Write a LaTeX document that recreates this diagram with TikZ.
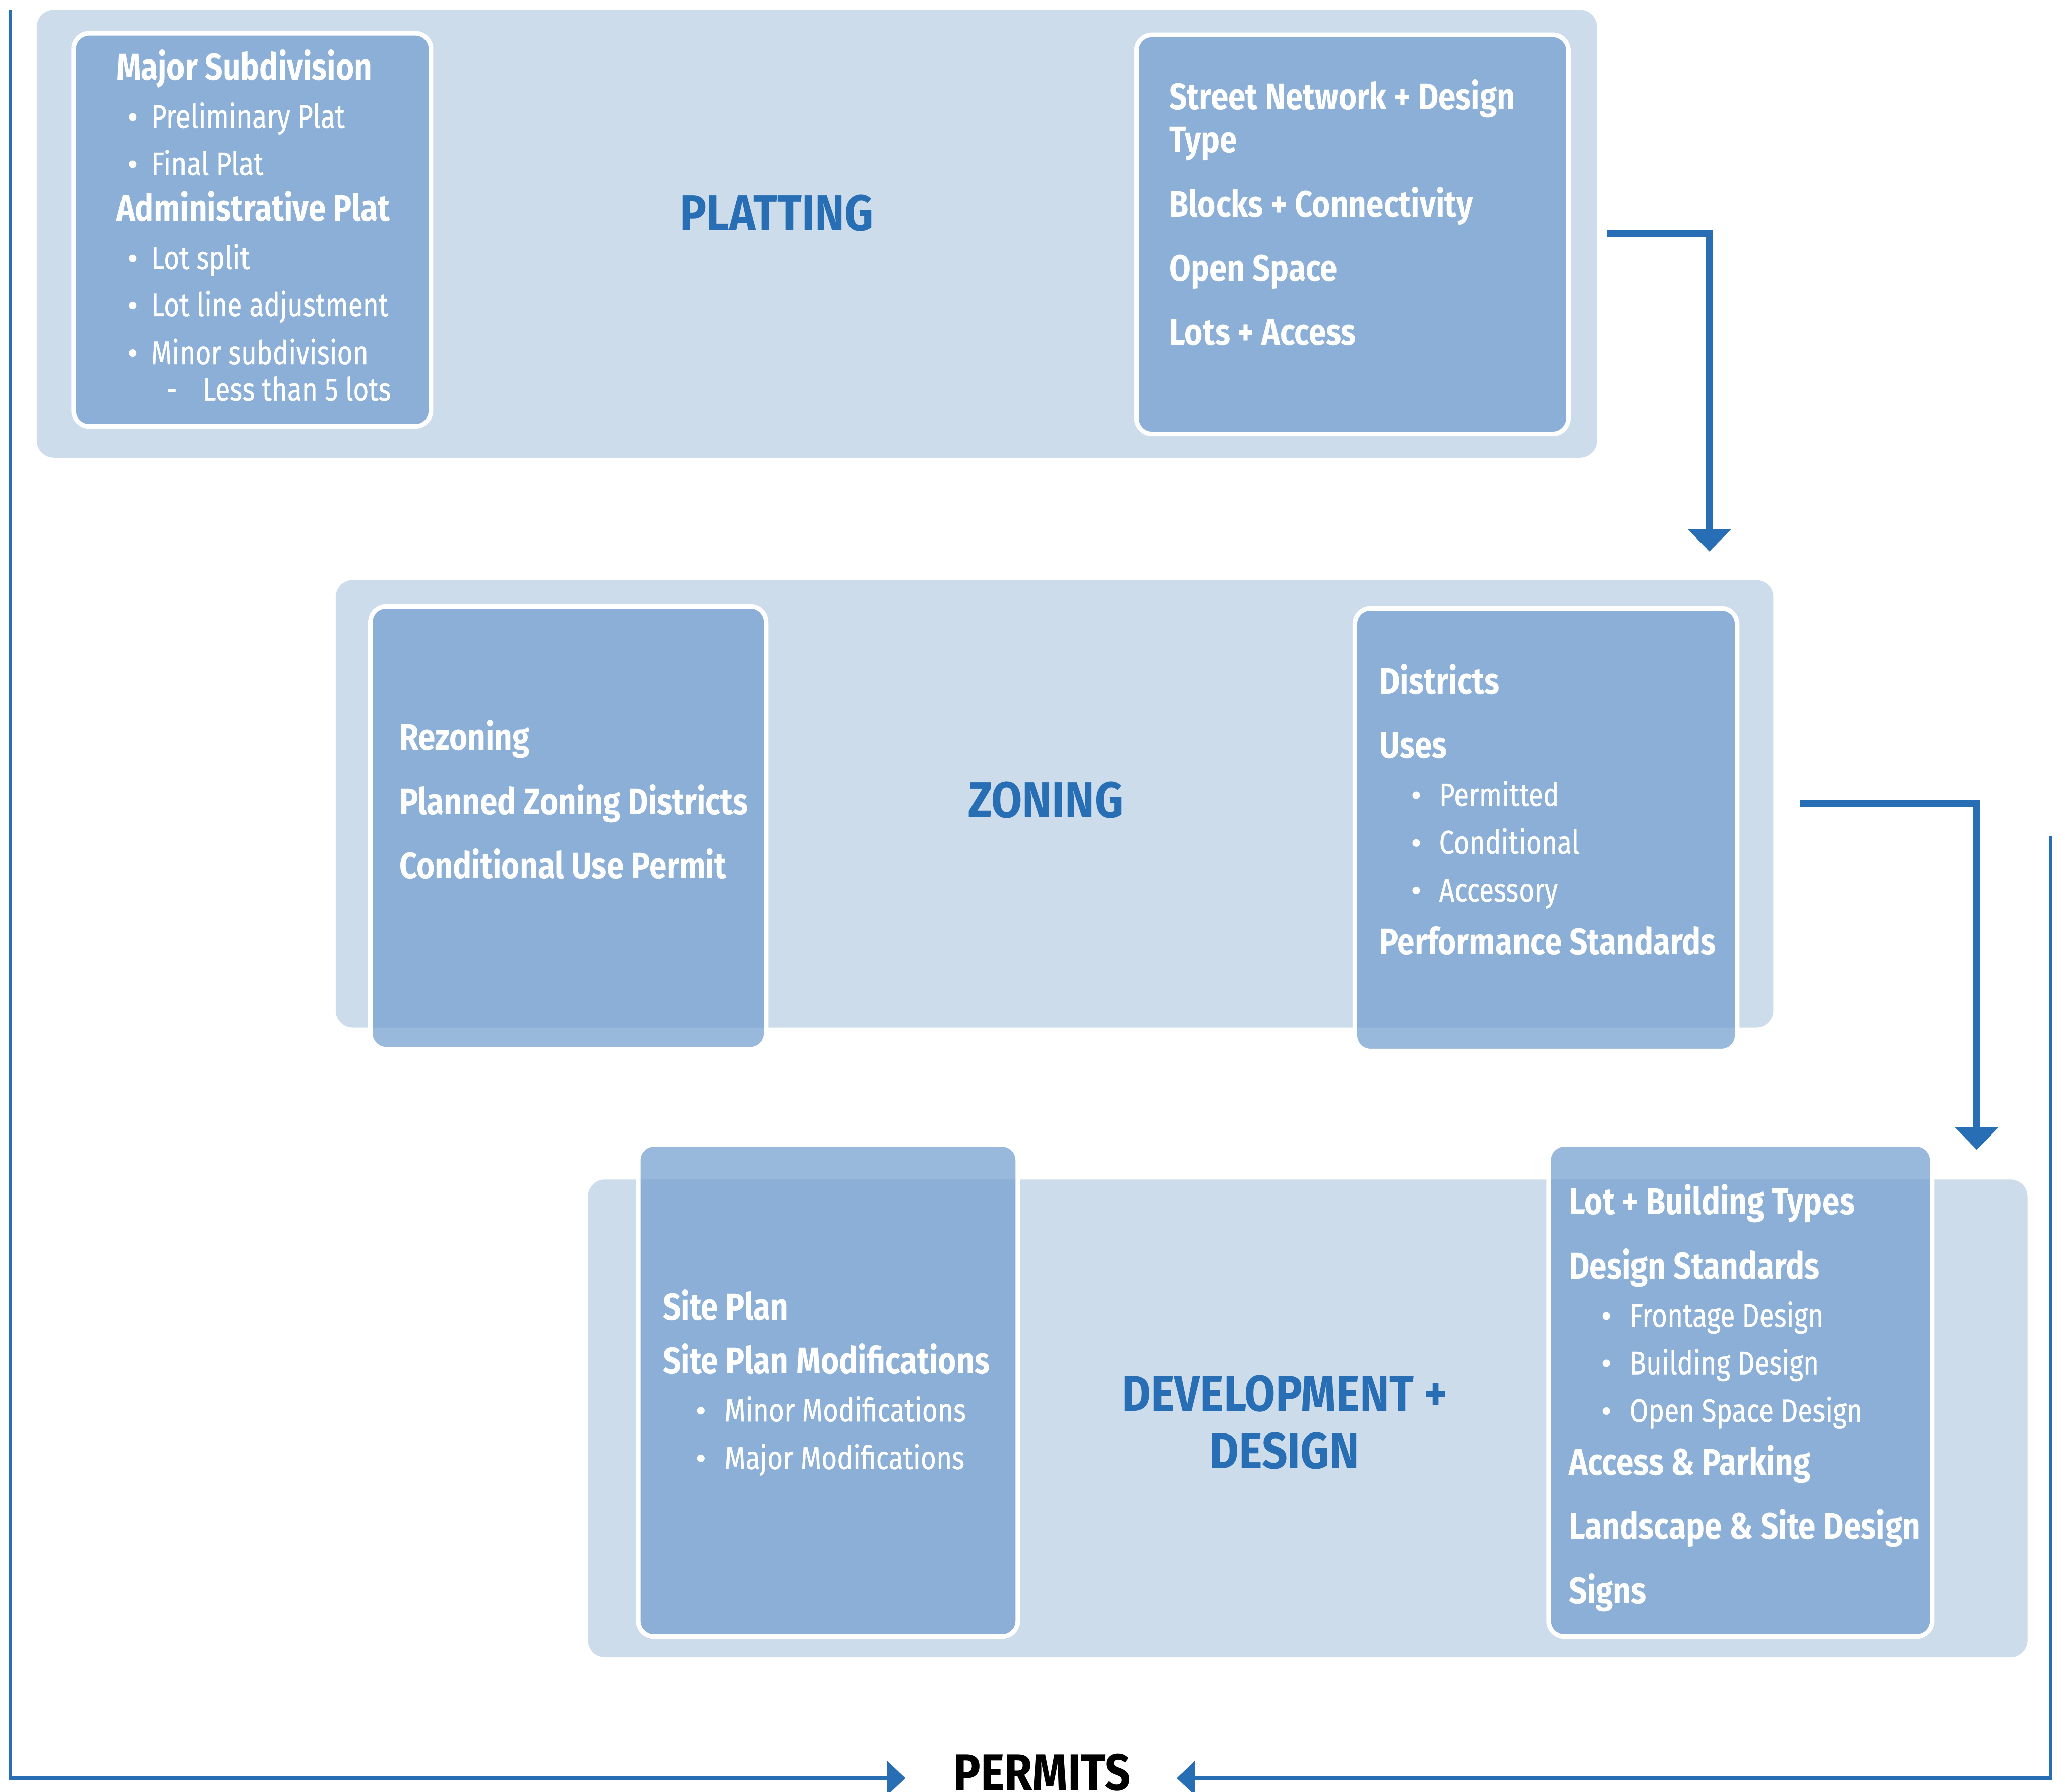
\documentclass[tikz,border=0pt]{standalone}
\usepackage{fontspec}
\setmainfont{Fira Sans}[UprightFeatures={FakeStretch=0.825,FakeBold=0.6}, BoldFeatures={FakeStretch=0.84}]
\newfontfamily\titlefont{Fira Sans}[FakeStretch=0.88]
\usetikzlibrary{arrows.meta}
\definecolor{outerc}{RGB}{204,220,235}
\definecolor{innerc}{RGB}{114,159,207}
\definecolor{titlec}{RGB}{39,110,181}
\definecolor{arrowc}{RGB}{40,110,181}
\begin{document}
\begin{tikzpicture}[x=1pt,y=-1pt,
  outerbox/.style={fill=outerc, rounded corners=13pt, inner sep=0pt, outer sep=0pt},
  innerbox/.style={fill=innerc, fill opacity=0.72, draw=white, line width=3.5pt, rounded corners=12pt, inner sep=0pt, outer sep=0pt},
  hd/.style={anchor=base west, inner sep=0pt, text=white, font=\bfseries\fontsize{28.3}{30}\selectfont},
  itm/.style={anchor=base west, inner sep=0pt, text=white, font=\fontsize{24.7}{26}\selectfont},
  bul/.style={anchor=base, inner sep=0pt, text=white, font=\fontsize{24.7}{26}\selectfont},
  dot/.style={circle, fill=white, inner sep=0pt, minimum size=5.8pt, yshift=8.2pt},
  ttl/.style={anchor=base, inner sep=0pt, text=titlec, font=\titlefont\bfseries\fontsize{38.6}{44}\selectfont},
  flow/.style={draw=arrowc, line width=5.3pt, -{Triangle[width=32pt,length=17pt]}},
  permit/.style={draw=arrowc, line width=2.5pt, -{Triangle[width=26pt,length=14pt]}}
]
\fill[white] (0,0) rectangle (1568,1360.3);
\useasboundingbox (0,0) rectangle (1568,1360.3);

% outer stage boxes
\node[outerbox, minimum width=1184.7pt, minimum height=340pt] (plat) at (620.25,177.5) {};
\node[outerbox, minimum width=1091.6pt, minimum height=339.6pt] (zon) at (800.7,610.2) {};
\node[outerbox, minimum width=1093pt, minimum height=362.8pt] (dev) at (993,1076.9) {};

% inner boxes
\node[innerbox, minimum width=271.4pt, minimum height=298.5pt] (pl1) at (191.55,174.5) {};
\node[innerbox, minimum width=328.1pt, minimum height=303pt] (pl2) at (1027,177.95) {};
\node[innerbox, minimum width=300.5pt, minimum height=336.3pt] (zn1) at (431.5,628.4) {};
\node[innerbox, minimum width=290.3pt, minimum height=336.2pt] (zn2) at (1173.9,629.85) {};
\node[innerbox, minimum width=288.2pt, minimum height=373.6pt] (dv1) at (628.75,1055.65) {};
\node[innerbox, minimum width=291.3pt, minimum height=373.6pt] (dv2) at (1321.6,1055.65) {};

% titles
\node[ttl] (tplat) at (589.7,175) {PLATTING};
\node[ttl] (tzon) at (794,620.6) {ZONING};
\node[ttl] (tdev1) at (975.7,1071.2) {DEVELOPMENT +};
\node[ttl] (tdev2) at (975.3,1114.8) {DESIGN};
\node[anchor=base, inner sep=0pt, text=black, font=\titlefont\bfseries\fontsize{39}{44}\selectfont] (permits) at (791.3,1359.3) {PERMITS};

% platting left
\node[hd] (t1) at (88.3,60.7) {Major Subdivision};
\node[dot] (b1) at (100.6,97) {};
\node[itm] (t2) at (114.6,97) {Preliminary Plat};
\node[dot] (b2) at (100.6,133) {};
\node[itm] (t3) at (114.6,133) {Final Plat};
\node[hd] (t4) at (88.3,168) {Administrative Plat};
\node[dot] (b3) at (100.6,204.3) {};
\node[itm] (t5) at (114.6,204.3) {Lot split};
\node[dot] (b4) at (100.6,240) {};
\node[itm] (t6) at (114.6,240) {Lot line adjustment};
\node[dot] (b5) at (100.6,276.4) {};
\node[itm] (t7) at (114.6,276.4) {Minor subdivision};
\node[bul] (d1) at (130.5,304.2) {-};
\node[itm] (t8) at (153.7,304.2) {Less than 5 lots};

% platting right
\node[hd] (s1) at (887.7,83.3) {Street Network + Design};
\node[hd] (s2) at (887.7,115.8) {Type};
\node[hd] (s3) at (887.7,164.7) {Blocks + Connectivity};
\node[hd] (s4) at (887.7,213.4) {Open Space};
\node[hd] (s5) at (887.7,262) {Lots + Access};

% zoning left
\node[hd] (z1) at (303,569.6) {Rezoning};
\node[hd] (z2) at (303,618.3) {Planned Zoning Districts};
\node[hd] (z3) at (303,667) {Conditional Use Permit};

% zoning right
\node[hd] (r1) at (1047.3,526.8) {Districts};
\node[hd] (r2) at (1047.3,575.5) {Uses};
\node[dot] (rb1) at (1075.3,611.9) {};
\node[itm] (r3) at (1092.6,611.9) {Permitted};
\node[dot] (rb2) at (1075.3,648) {};
\node[itm] (r4) at (1092.6,648) {Conditional};
\node[dot] (rb3) at (1075.3,684.4) {};
\node[itm] (r5) at (1092.6,684.4) {Accessory};
\node[hd] (r6) at (1047.3,724.9) {Performance Standards};

% development left
\node[hd] (v1) at (503.2,1002) {Site Plan};
\node[hd] (v2) at (503.2,1043) {Site Plan Modifications};
\node[dot] (vb1) at (532.2,1079.2) {};
\node[itm] (v3) at (550,1079.2) {Minor Modifications};
\node[dot] (vb2) at (532.2,1115.4) {};
\node[itm] (v4) at (550,1115.4) {Major Modifications};

% development right
\node[hd] (w1) at (1191.3,921.9) {Lot + Building Types};
\node[hd] (w2) at (1191.3,970.8) {Design Standards};
\node[dot] (wb1) at (1219.7,1007.3) {};
\node[itm] (w3) at (1237.3,1007.3) {Frontage Design};
\node[dot] (wb2) at (1219.7,1043.3) {};
\node[itm] (w4) at (1237.3,1043.3) {Building Design};
\node[dot] (wb3) at (1219.7,1079.5) {};
\node[itm] (w5) at (1237.3,1079.5) {Open Space Design};
\node[hd] (w6) at (1191.3,1119.8) {Access \& Parking};
\node[hd] (w7) at (1191.3,1168.5) {Landscape \& Site Design};
\node[hd] (w8) at (1191.3,1217.4) {Signs};

% flow arrows
\coordinate (a1) at (1298,418.7);
\coordinate (a2) at (1501,873);
\draw[flow] ([xshift=7.4pt]plat.east) -| (a1);
\draw[flow] ([xshift=20.5pt]zon.east) -| (a2);

% permit lines
\coordinate (ltop) at (8,7.5);
\coordinate (ltip) at (687.6,1350);
\coordinate (rtop) at (1557,634.6);
\coordinate (rtip) at (893.5,1350);
\draw[permit] (ltop) |- (ltip);
\draw[permit] (rtop) |- (rtip);
\end{tikzpicture}
\end{document}
